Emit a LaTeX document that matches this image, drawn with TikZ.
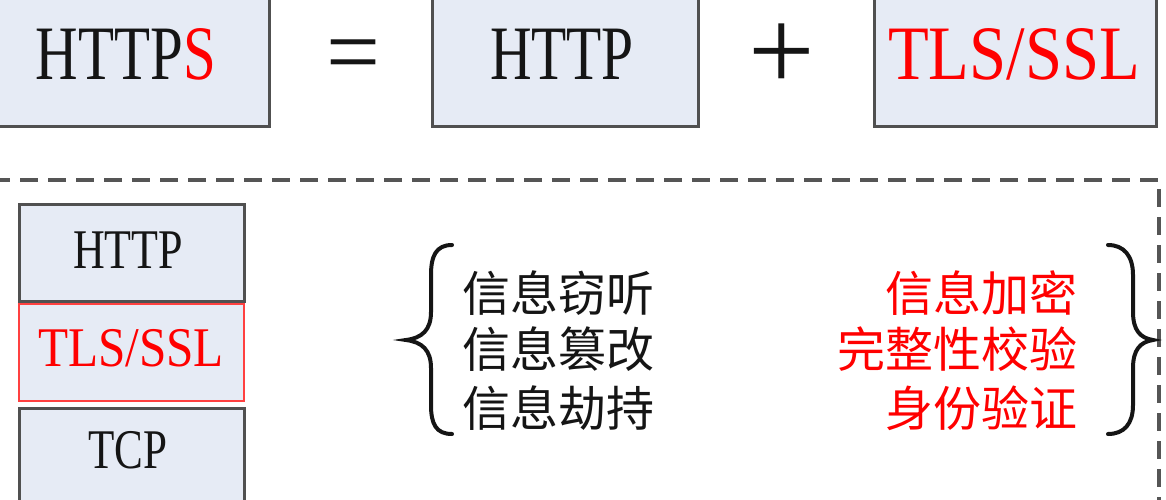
\documentclass[tikz,border=0pt]{standalone}
\usepackage{fontspec}
\usepackage{graphicx}
\setmainfont{Liberation Serif}
\newfontfamily\cjkfont{Noto Sans CJK SC}
\definecolor{boxfill}{HTML}{E6EBF5}
\definecolor{boxline}{HTML}{505050}
\definecolor{dashgray}{HTML}{555555}
\definecolor{redline}{HTML}{FF4040}
\definecolor{txtred}{HTML}{FF0000}
\definecolor{txtblack}{HTML}{151515}
\begin{document}
\begin{tikzpicture}[x=1pt,y=-1pt,
  layer/.style={draw=boxline, line width=2.5pt, fill=boxfill, inner sep=0pt, anchor=north west},
  redlayer/.style={layer, draw=redline, line width=2pt},
  bigtxt/.style={font=\fontsize{77}{80}\selectfont, inner sep=0pt, anchor=base, text=txtblack},
  smalltxt/.style={font=\fontsize{56}{60}\selectfont, inner sep=0pt, anchor=base, text=txtblack},
  symtxt/.style={inner sep=0pt, anchor=base, text=txtblack},
  cjk/.style={font=\cjkfont\fontsize{48}{50}\selectfont, inner sep=0pt},
  bracestyle/.style={line width=4pt, line cap=round, draw=txtblack},
  dashline/.style={draw=dashgray, line width=3.3pt, dash pattern=on 18pt off 10pt}
]
\useasboundingbox (0,0) rectangle (1166,500);
\clip (0,0) rectangle (1166,500);

% top row boxes
\node[layer, minimum width=273pt, minimum height=130pt] (bhttps) at (-5,-5) {};
\node[layer, minimum width=266pt, minimum height=130pt] (bhttp) at (431,-5) {};
\node[layer, minimum width=282pt, minimum height=130pt] (btls) at (873,-5) {};

\node[bigtxt] (thttps) at (126,80) {\resizebox{180pt}{\height}{HTTP\textcolor{txtred}{S}}};
\node[bigtxt] (thttp) at (562,80) {\resizebox{144pt}{\height}{HTTP}};
\node[bigtxt, text=txtred] (ttls) at (1014,80) {\resizebox{252pt}{\height}{TLS/SSL}};

\node[symtxt, font=\fontsize{100}{100}\selectfont] (teq) at (353,86) {\resizebox{54pt}{\height}{=}};
\node[symtxt, font=\fontsize{118}{118}\selectfont] (tplus) at (782,91) {+};

% dashed frame
\draw[dashline] (-8,180) -- (1159,180) -- (1159,505);

% protocol stack
\node[layer, minimum width=225pt, minimum height=97pt] (shttp) at (18,203) {};
\node[redlayer, minimum width=225pt, minimum height=97pt] (stls) at (18,303) {};
\node[layer, minimum width=225pt, minimum height=100pt] (stcp) at (18,407) {};

\node[smalltxt] (lhttp) at (128,268) {\resizebox{110pt}{\height}{HTTP}};
\node[smalltxt, text=txtred] (ltls) at (131,366) {\resizebox{186pt}{\height}{TLS/SSL}};
\node[smalltxt] (ltcp) at (128,468) {\resizebox{79pt}{\height}{TCP}};

% braces
\draw[bracestyle] (452,245) .. controls (436,245) and (431,256) .. (431,275)
  -- (431,312) .. controls (431,330) and (422,338) .. (406,340)
  .. controls (422,342) and (431,350) .. (431,368)
  -- (431,405) .. controls (431,424) and (436,434) .. (452,434);
\draw[bracestyle] (1108,245) .. controls (1124,245) and (1133,256) .. (1133,275)
  -- (1133,312) .. controls (1133,330) and (1140,338) .. (1153,340)
  .. controls (1140,342) and (1133,350) .. (1133,368)
  -- (1133,405) .. controls (1133,424) and (1124,434) .. (1108,434);

% threats
\node[cjk, anchor=west, text=txtblack] (th1) at (462,293) {信息窃听};
\node[cjk, anchor=west, text=txtblack] (th2) at (462,349) {信息篡改};
\node[cjk, anchor=west, text=txtblack] (th3) at (462,408) {信息劫持};

% countermeasures
\node[cjk, anchor=east, text=txtred] (cm1) at (1078,293) {信息加密};
\node[cjk, anchor=east, text=txtred] (cm2) at (1078,349) {完整性校验};
\node[cjk, anchor=east, text=txtred] (cm3) at (1078,408) {身份验证};
\end{tikzpicture}
\end{document}
